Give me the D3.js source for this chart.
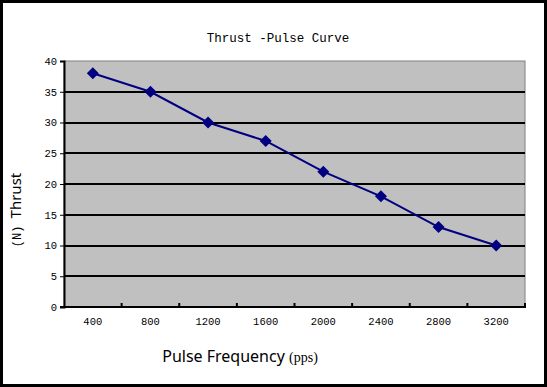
<!DOCTYPE html>
<html>
  <head>
    <meta charset="utf-8" />
    <script src="https://d3js.org/d3.v7.min.js"></script>
    <style>
        body { margin: 0; background: #fff; }
        text { fill: #000; }
        .tick-label { font-family: "Liberation Mono", monospace; font-size: 10.5px; }
    </style>
  </head>
  <body>
    <svg width="547" height="387"></svg>

    <script type="text/javascript">
        var categories = ["400", "800", "1200", "1600", "2000", "2400", "2800", "3200"];
        var thrust = [38, 35, 30, 27, 22, 18, 13, 10];
        var yTicks = [0, 5, 10, 15, 20, 25, 30, 35, 40];

        var W = 547, H = 387;
        var plotLeft = 64, plotRight = 525, plotTop = 61, plotBottom = 307;

        var svg = d3.select("svg");

        // outer frame
        svg.append("rect")
            .attr("x", 1.5).attr("y", 1.5)
            .attr("width", W - 3).attr("height", H - 3)
            .attr("fill", "#fff")
            .attr("stroke", "#000")
            .attr("stroke-width", 3);

        var x = d3.scaleBand()
            .domain(categories)
            .range([plotLeft, plotRight]);

        var y = d3.scaleLinear()
            .domain([0, 40])
            .range([plotBottom, plotTop]);

        // plot area
        svg.append("rect")
            .attr("x", plotLeft).attr("y", plotTop)
            .attr("width", plotRight - plotLeft).attr("height", plotBottom - plotTop)
            .attr("fill", "#c0c0c0")
            .attr("stroke", "#808080")
            .attr("stroke-width", 1);

        // gridlines
        svg.append("g")
            .selectAll("line")
            .data(yTicks.filter(function(d){ return d > 0 && d < 40; }))
            .enter()
            .append("line")
            .attr("x1", plotLeft).attr("x2", plotRight)
            .attr("y1", function(d){ return Math.round(y(d)); })
            .attr("y2", function(d){ return Math.round(y(d)); })
            .attr("stroke", "#000")
            .attr("stroke-width", 2);

        // y axis
        var yAxis = svg.append("g")
            .attr("transform", "translate(" + plotLeft + ",0)")
            .call(d3.axisLeft(y).tickValues(yTicks).tickSize(4).tickPadding(3));
        yAxis.select(".domain").attr("stroke", "#000").attr("stroke-width", 2);
        yAxis.selectAll(".tick line").attr("stroke", "#000");
        yAxis.selectAll("text").attr("class", "tick-label").attr("fill", "#000");

        // x axis: ticks at category boundaries, labels at centers
        svg.append("line")
            .attr("x1", plotLeft - 4).attr("x2", plotRight + 1)
            .attr("y1", plotBottom).attr("y2", plotBottom)
            .attr("stroke", "#000").attr("stroke-width", 2);

        svg.append("g")
            .selectAll("line")
            .data(categories)
            .enter()
            .append("line")
            .attr("x1", function(d){ return x(d) + x.bandwidth(); })
            .attr("x2", function(d){ return x(d) + x.bandwidth(); })
            .attr("y1", plotBottom - 4).attr("y2", plotBottom + 1)
            .attr("stroke", "#000").attr("stroke-width", 2);

        svg.append("g")
            .selectAll("text")
            .data(categories)
            .enter()
            .append("text")
            .attr("class", "tick-label")
            .attr("x", function(d){ return x(d) + x.bandwidth() / 2; })
            .attr("y", plotBottom + 18)
            .attr("text-anchor", "middle")
            .text(function(d){ return d; });

        // line + markers
        var pts = categories.map(function(c, i){ return [x(c) + x.bandwidth() / 2, y(thrust[i])]; });

        svg.append("path")
            .datum(pts)
            .attr("d", d3.line())
            .attr("fill", "none")
            .attr("stroke", "#000080")
            .attr("stroke-width", 2);

        svg.append("g")
            .selectAll("path")
            .data(pts)
            .enter()
            .append("path")
            .attr("d", d3.symbol().type(d3.symbolSquare).size(72))
            .attr("transform", function(d){ return "translate(" + d[0] + "," + d[1] + ") rotate(45)"; })
            .attr("fill", "#000080");

        // title
        svg.append("text")
            .attr("x", 278).attr("y", 42)
            .attr("text-anchor", "middle")
            .style("font-family", "'Liberation Mono', monospace")
            .style("font-size", "12.5px")
            .text("Thrust -Pulse Curve");

        // y label
        var yl = svg.append("text")
            .attr("transform", "translate(21,210) rotate(-90)")
            .attr("text-anchor", "middle");
        yl.append("tspan")
            .style("font-family", "'Liberation Mono', monospace")
            .style("font-size", "12px")
            .text("(N) ");
        yl.append("tspan")
            .style("font-family", "'Noto Sans', sans-serif")
            .style("font-size", "15px")
            .text("Thrust");

        // x label
        var xl = svg.append("text")
            .attr("x", 240).attr("y", 362)
            .attr("text-anchor", "middle");
        xl.append("tspan")
            .style("font-family", "'Noto Sans', sans-serif")
            .style("font-size", "16px")
            .text("Pulse Frequency ");
        xl.append("tspan")
            .style("font-family", "'Liberation Serif', serif")
            .style("font-size", "14px")
            .text("(pps)");
    </script>
  </body>
</html>
